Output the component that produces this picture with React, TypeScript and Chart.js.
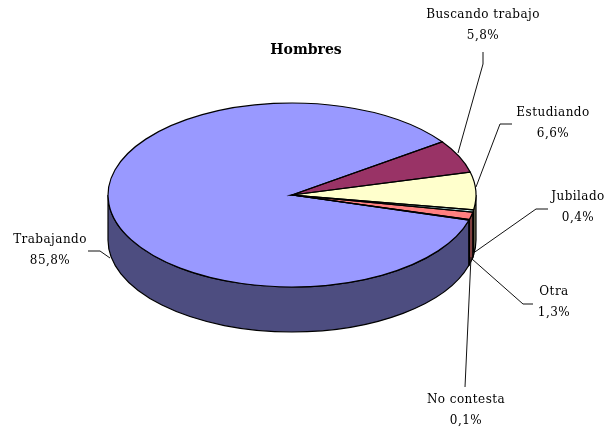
import React, { useEffect, useRef } from "react";
import { Chart, registerables } from "chart.js";

Chart.register(...registerables);

const categories = ["Trabajando", "Buscando trabajo", "Estudiando", "Jubilado", "Otra", "No contesta"];
const values = [85.8, 5.8, 6.6, 0.4, 1.3, 0.1];
const valueLabels = ["85,8%", "5,8%", "6,6%", "0,4%", "1,3%", "0,1%"];
const topColors = ["#9999FF", "#993366", "#FFFFCC", "#CCFFFF", "#FF8080", "#0066CC"];
const sideColors = ["#4D4D80", "#4D1A33", "#808066", "#668080", "#804040", "#003366"];
const title = "Hombres";

const SQUASH = 92 / 184;
const DEPTH = 45;
const FONT = '12px "DejaVu Serif", serif';

// label centre x, first line y, then the leader polyline, per category
const labelCentres = [
  [50, 240], [483, 15], [553, 113], [578, 197], [554, 292], [466, 400],
];
const leaders = [
  [[88, 251], [100, 251], [110, 258]],
  [[483, 52], [483, 64], [458, 153]],
  [[512, 124], [500, 124], [476, 187]],
  [[548, 209], [536, 209], [472, 254]],
  [[533, 304], [523, 304], [472, 259]],
  [[465, 387], [471, 257]],
];

const pie3d = {
  id: "pie3d",
  beforeDatasetsDraw(chart: any) {
    const ctx = chart.ctx;
    const arcs = chart.getDatasetMeta(0).data;
    const { x, y, outerRadius: r } = arcs[0];
    const ry = r * SQUASH;
    ctx.save();
    ctx.lineWidth = 1.2;
    ctx.strokeStyle = "#000";
    arcs.forEach((arc: any, i: number) => {
      for (const shift of [-2 * Math.PI, 0, 2 * Math.PI]) {
        const a0 = Math.max(arc.startAngle + shift, 0);
        const a1 = Math.min(arc.endAngle + shift, Math.PI);
        if (a1 <= a0) continue;
        ctx.beginPath();
        ctx.ellipse(x, y, r, ry, 0, a0, a1);
        ctx.ellipse(x, y + DEPTH, r, ry, 0, a1, a0, true);
        ctx.closePath();
        ctx.fillStyle = sideColors[i];
        ctx.fill();
        ctx.stroke();
      }
    });
    ctx.restore();
    ctx.save();
    ctx.translate(0, y);
    ctx.scale(1, SQUASH);
    ctx.translate(0, -y);
  },
  afterDatasetsDraw(chart: any) {
    const ctx = chart.ctx;
    ctx.restore();
    const arcs = chart.getDatasetMeta(0).data;
    const { x, y, outerRadius: r } = arcs[0];
    const ry = r * SQUASH;
    ctx.save();
    ctx.lineWidth = 1.2;
    ctx.strokeStyle = "#000";
    arcs.forEach((arc: any) => {
      ctx.beginPath();
      ctx.moveTo(x, y);
      ctx.ellipse(x, y, r, ry, 0, arc.startAngle, arc.endAngle);
      ctx.closePath();
      ctx.stroke();
    });
    ctx.lineWidth = 1;
    ctx.strokeStyle = "#111";
    leaders.forEach((pts) => {
      ctx.beginPath();
      pts.forEach(([px, py], k) => (k ? ctx.lineTo(px, py) : ctx.moveTo(px, py)));
      ctx.stroke();
    });
    ctx.fillStyle = "#000";
    ctx.textAlign = "center";
    ctx.textBaseline = "middle";
    ctx.font = FONT;
    ctx.letterSpacing = "0.45px";
    categories.forEach((c, i) => {
      const [lx, ly] = labelCentres[i];
      ctx.fillText(c, lx, ly);
      ctx.fillText(valueLabels[i], lx, ly + 21);
    });
    ctx.letterSpacing = "0px";
    ctx.font = 'bold 14px "DejaVu Serif", serif';
    ctx.fillText(title, 306, 50);
    ctx.restore();
  },
};

export default function App() {
  const ref = useRef<HTMLCanvasElement>(null);
  useEffect(() => {
    document.body.style.margin = "0";
    const chart = new Chart(ref.current!, {
      type: "pie",
      data: {
        labels: categories,
        datasets: [{ data: values, backgroundColor: topColors, borderWidth: 0 }],
      },
      options: {
        animation: false,
        responsive: false,
        rotation: 105.8,
        layout: { padding: { left: 108, right: 140, top: 11, bottom: 51 } },
        plugins: { legend: { display: false }, tooltip: { enabled: false } },
      },
      plugins: [pie3d],
    } as any);
    return () => chart.destroy();
  }, []);
  return <canvas ref={ref} width={616} height={430} style={{ display: "block" }} />;
}
